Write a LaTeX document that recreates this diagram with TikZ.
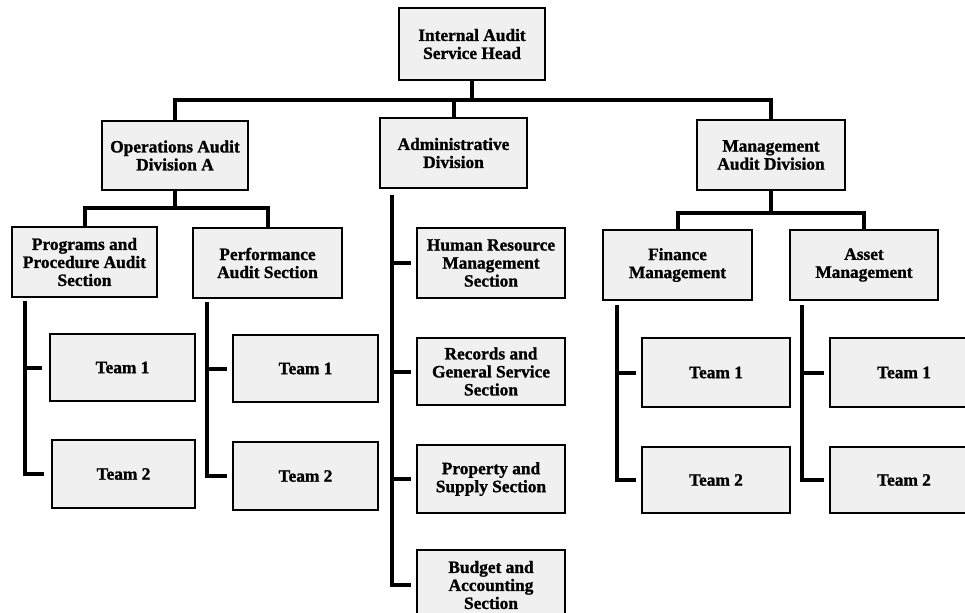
\documentclass[tikz,border=0pt]{standalone}
\usepackage{fontspec}
\setmainfont{Liberation Serif}[BoldFeatures={FakeBold=1.2}]
\usetikzlibrary{calc}
\begin{document}
\begin{tikzpicture}[x=0.75pt,y=-0.75pt,
  box/.style={draw=black,line width=2pt,fill=gray!12,text=black,align=center,
    inner sep=0pt,font=\fontsize{13}{13.5}\selectfont\bfseries},
  conn/.style={line width=3pt,line cap=rect}]
\useasboundingbox (0,0) rectangle (965,612);
% level 0
\node[box,minimum width=146*0.75pt,minimum height=72*0.75pt] (top) at (472,44) {Internal Audit\\Service Head};
% level 1
\node[box,minimum width=146*0.75pt,minimum height=69*0.75pt] (ops) at (175,155.5) {Operations Audit\\Division A};
\node[box,minimum width=147*0.75pt,minimum height=70*0.75pt] (adm) at (453.5,153) {Administrative\\Division};
\node[box,minimum width=148*0.75pt,minimum height=70*0.75pt] (mgt) at (771,155) {Management\\Audit Division};
% level 2
\node[box,minimum width=145*0.75pt,minimum height=70*0.75pt] (prog) at (84.5,262) {Programs and\\Procedure Audit\\Section};
\node[box,minimum width=149*0.75pt,minimum height=70*0.75pt] (perf) at (267.5,263) {Performance\\Audit Section};
\node[box,minimum width=149*0.75pt,minimum height=70*0.75pt] (fin) at (677.5,265) {Finance\\Management};
\node[box,minimum width=148*0.75pt,minimum height=70*0.75pt] (ast) at (864,265) {Asset\\Management};
% admin sections
\node[box,minimum width=148*0.75pt,minimum height=70*0.75pt] (hr) at (491,263) {Human Resource\\Management\\Section};
\node[box,minimum width=148*0.75pt,minimum height=67*0.75pt] (rec) at (491,371.5) {Records and\\General Service\\Section};
\node[box,minimum width=148*0.75pt,minimum height=68*0.75pt] (prop) at (491,479) {Property and\\Supply Section};
\node[box,minimum width=148*0.75pt,minimum height=70*0.75pt] (bud) at (491,585) {Budget and\\Accounting\\Section};
% teams
\node[box,minimum width=145*0.75pt,minimum height=67*0.75pt] (pt1) at (122.5,367.5) {Team 1};
\node[box,minimum width=143*0.75pt,minimum height=68*0.75pt] (pt2) at (123.5,474) {Team 2};
\node[box,minimum width=145*0.75pt,minimum height=67*0.75pt] (ft1) at (305.5,368.5) {Team 1};
\node[box,minimum width=145*0.75pt,minimum height=68*0.75pt] (ft2) at (305.5,476) {Team 2};
\node[box,minimum width=148*0.75pt,minimum height=69*0.75pt] (mt1) at (716,372.5) {Team 1};
\node[box,minimum width=148*0.75pt,minimum height=66*0.75pt] (mt2) at (716,480) {Team 2};
\node[box,minimum width=148*0.75pt,minimum height=69*0.75pt] (at1) at (904,372.5) {Team 1};
\node[box,minimum width=148*0.75pt,minimum height=66*0.75pt] (at2) at (904,480) {Team 2};
% top connectors
\coordinate (j) at (472,100);
\draw[conn] (top.south) -- (top.south |- j);
\draw[conn] (ops.north) -- (ops.north |- j) -- (mgt.north |- j) -- (mgt.north);
\draw[conn] (adm.north) -- (adm.north |- j);
% ops children
\coordinate (oj) at (175,208);
\draw[conn] (ops.south) -- (ops.south |- oj);
\draw[conn] (prog.north) -- (prog.north |- oj) -- (perf.north |- oj) -- (perf.north);
% mgt children
\coordinate (mj) at (772,213);
\draw[conn] (mgt.south) -- (mgt.south |- mj);
\draw[conn] (fin.north) -- (fin.north |- mj) -- (ast.north |- mj) -- (ast.north);
% trunks
\coordinate (pa) at (25,303);
\draw[conn] (pa) |- ($(pt2.west)+(-9,0)$);
\draw[conn] (pa |- pt1.west) -- ($(pt1.west)+(-9,0)$);
\coordinate (fa) at (207,304);
\draw[conn] (fa) |- ($(ft2.west)+(-7,0)$);
\draw[conn] (fa |- ft1.west) -- ($(ft1.west)+(-7,0)$);
\coordinate (aa) at (392,197);
\draw[conn] (aa) |- ($(bud.west)+(-7,0)$);
\draw[conn] (aa |- hr.west) -- ($(hr.west)+(-7,0)$);
\draw[conn] (aa |- rec.west) -- ($(rec.west)+(-7,0)$);
\draw[conn] (aa |- prop.west) -- ($(prop.west)+(-7,0)$);
\coordinate (fi) at (617,307);
\draw[conn] (fi) |- ($(mt2.west)+(-7,0)$);
\draw[conn] (fi |- mt1.west) -- ($(mt1.west)+(-7,0)$);
\coordinate (as) at (802,307);
\draw[conn] (as) |- ($(at2.west)+(-7,0)$);
\draw[conn] (as |- at1.west) -- ($(at1.west)+(-7,0)$);
\end{tikzpicture}
\end{document}
